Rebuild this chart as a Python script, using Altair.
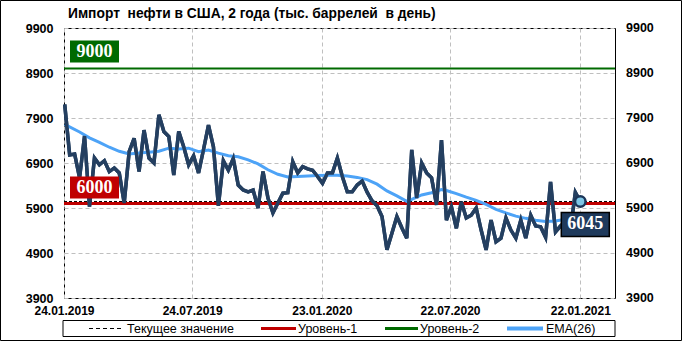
import altair as alt
import pandas as pd

# ---------------- data ----------------
dates = pd.date_range("2019-01-25", periods=105, freq="7D").strftime("%Y-%m-%d").tolist()
imports = [
    8200, 7080, 7100, 6570, 7500, 5930, 7010, 6860, 6950, 6710,
    6790, 6680, 6010, 7150, 7450, 6710, 7630, 7010, 6900, 7970,
    7600, 7490, 6630, 7600, 7260, 6860, 7060, 6680, 7200, 7740,
    7260, 5950, 6950, 6740, 7000, 6410, 6300, 6260, 6300, 5900,
    6710, 6120, 5790, 6010, 6230, 6240, 6930, 6680, 6820, 6770,
    6740, 6600, 6450, 6680, 6680, 7010, 6600, 6260, 6260, 6410,
    6500, 6250, 6060, 5950, 5710, 4970, 5340, 5710, 5460, 5230,
    7190, 6120, 6900, 6680, 6570, 5970, 7410, 5630, 5930, 5450,
    6040, 5680, 5740, 5900, 5410, 4970, 5630, 5150, 5230, 5680,
    5410, 5230, 5630, 5230, 5740, 5500, 5480, 5250, 6480, 5370,
    5500, 5600, 5400, 6250, 6045,
]
ema_weeks = [0, 3, 5, 7, 9, 11, 13, 15, 17, 19, 21, 23, 25, 27, 29, 31, 33, 35, 37, 39,
             41, 43, 45, 47, 49, 51, 53, 55, 57, 59, 61, 63, 65, 67, 69, 70, 72, 74, 76, 77,
             79, 81, 83, 85, 87, 89, 91, 93, 95, 97, 99, 101, 104]
ema_values = [7760, 7590, 7460, 7360, 7250, 7160, 7100, 7120, 7140, 7160, 7230, 7210, 7230, 7150,
              7190, 7120, 7060, 7040, 6970, 6880, 6750, 6650, 6590, 6600, 6610, 6620, 6630, 6630,
              6610, 6580, 6530, 6430, 6280, 6170, 6050, 6090, 6190, 6240, 6310, 6290, 6220, 6140,
              6070, 5980, 5870, 5790, 5720, 5670, 5630, 5600, 5610, 5650, 5720]
level1 = 6000
level2 = 9000
y_ticks = [3900, 4900, 5900, 6900, 7900, 8900, 9900]
x_ticks = ["2019-01-24", "2019-07-24", "2020-01-23", "2020-07-22", "2021-01-22"]
x_domain = ["2019-01-24", "2021-03-12"]
title_text = "Импорт\u00a0 нефти в США, 2 года (тыс. баррелей\u00a0 в день)"
legend_labels = ["Текущее значение", "Уровень-1", "Уровень-2", "EMA(26)"]

# ---------------- helpers ----------------
W, H = 551, 270
FONT = "Liberation Sans"
SERIF = "Liberation Serif"
NAVY = "#243F60"
BLUE = "#4DA3F7"
RED = "#C00000"
GREEN = "#006A00"


def dt(s):
    y, m, d = (int(p) for p in s.split("-"))
    return alt.DateTime(year=y, month=m, date=d, utc=True)


xscale = alt.Scale(type="utc", domain=[dt(x_domain[0]), dt(x_domain[1])])
yscale = alt.Scale(domain=[y_ticks[0], y_ticks[-1]], nice=False, zero=False)

xaxis = alt.Axis(values=[dt(s) for s in x_ticks],
                 labelExpr="utcFormat(datum.value, '%d.%m.%Y')",
                 title=None, labelFlush=False, labelOverlap=False, labelPadding=7,
                 grid=True, gridDash=[4, 3], gridColor="#BFBFBF", ticks=False, domain=False,
                 labelFont=FONT, labelFontSize=12, labelFontWeight="bold", labelColor="black")
yaxis = alt.Axis(values=y_ticks, format="d", title=None, labelPadding=11, grid=True, gridDash=[4, 3],
                 gridColor="#BFBFBF", ticks=False, domain=False, labelFont=FONT,
                 labelFontSize=12.5, labelFontWeight="bold", labelColor="black")

X = alt.X("date:T", scale=xscale, axis=xaxis)
X2 = alt.X2("date")
Y = alt.Y("v:Q", scale=yscale, axis=yaxis)
Y2 = alt.Y2("v")

df = pd.DataFrame({"date": dates, "v": imports})
ema_df = pd.DataFrame({"date": [dates[i] for i in ema_weeks], "v": ema_values})
last_df = df.tail(1)
cur_df = pd.DataFrame({"v": [imports[-1]]})
l1_df = pd.DataFrame({"v": [level1]})
l2_df = pd.DataFrame({"v": [level2]})
ticks_df = pd.DataFrame({"v": y_ticks})

main = alt.Chart(df).mark_line(color=NAVY, strokeWidth=3.5).encode(x=X, y=Y)
ema = alt.Chart(ema_df).mark_line(color=BLUE, strokeWidth=3).encode(x=X, y=Y)

lvl2 = alt.Chart(l2_df).mark_rule(color=GREEN, strokeWidth=2).encode(
    y=Y, x=alt.value(0), x2=alt.value(W))
lvl1 = alt.Chart(l1_df).mark_rule(color=RED, strokeWidth=3).encode(
    y=Y, x=alt.value(0), x2=alt.value(W))
cur = alt.Chart(cur_df).mark_rule(color="black", strokeWidth=1, strokeDash=[3, 2]).encode(
    y=Y, x=alt.value(0), x2=alt.value(W))

right_labels = alt.Chart(ticks_df).mark_text(
    align="left", baseline="middle", font=FONT, fontSize=12.5, fontWeight="bold", color="black"
).encode(y=Y, x=alt.value(W + 11), text=alt.Text("v:Q", format="d"))

box2 = alt.Chart(l2_df).mark_rect(color=GREEN, yOffset=-28, y2Offset=-6).encode(
    y=Y, y2=Y2, x=alt.value(6), x2=alt.value(55))
txt2 = alt.Chart(l2_df).mark_text(color="white", font=SERIF, fontSize=18, fontWeight="bold",
                                  baseline="middle", align="center", yOffset=-17).encode(
    y=Y, x=alt.value(30.5), text=alt.Text("v:Q", format="d"))
box1 = alt.Chart(l1_df).mark_rect(color=RED, yOffset=-27, y2Offset=-5).encode(
    y=Y, y2=Y2, x=alt.value(6), x2=alt.value(55))
txt1 = alt.Chart(l1_df).mark_text(color="white", font=SERIF, fontSize=18, fontWeight="bold",
                                  baseline="middle", align="center", yOffset=-16).encode(
    y=Y, x=alt.value(30.5), text=alt.Text("v:Q", format="d"))

dot = alt.Chart(last_df).mark_circle(size=110, color="#7FC6E6", stroke="#1B3558",
                                     strokeWidth=2.5, opacity=1).encode(x=X, y=Y)
box_last = alt.Chart(last_df).mark_rect(color="#1F3A5C", stroke="black", strokeWidth=1.5,
                                        xOffset=-19, x2Offset=29, yOffset=11, y2Offset=35).encode(
    x=X, x2=X2, y=Y, y2=Y2)
txt_last = alt.Chart(last_df).mark_text(color="white", font=SERIF, fontSize=18, fontWeight="bold",
                                        baseline="middle", align="center", xOffset=5, yOffset=23).encode(
    x=X, y=Y, text=alt.Text("v:Q", format="d"))

# title
title = alt.Chart(pd.DataFrame({"t": [title_text]})).mark_text(
    align="left", baseline="middle", font=FONT, fontSize=13.8, fontWeight="bold", color="black"
).encode(x=alt.value(4), y=alt.value(-14), text="t:N")

# legend
LY = 300.5
leg_box = alt.Chart(pd.DataFrame({"a": [0]})).mark_rect(filled=False, stroke="black", strokeWidth=1).encode(
    x=alt.value(-1), x2=alt.value(W), y=alt.value(292.5), y2=alt.value(308.5))
leg_items = []
specs = [(25, 58, "black", 1, [4, 3], 63), (197, 232, RED, 3, None, 234),
         (321, 354, GREEN, 3, None, 356), (443, 479, BLUE, 4, None, 482)]
for (x1, x2, col, sw, dash, tx), lab in zip(specs, legend_labels):
    kw = dict(color=col, strokeWidth=sw)
    if dash:
        kw["strokeDash"] = dash
    leg_items.append(alt.Chart(pd.DataFrame({"a": [0]})).mark_rule(**kw).encode(
        x=alt.value(x1), x2=alt.value(x2), y=alt.value(LY)))
    leg_items.append(alt.Chart(pd.DataFrame({"t": [lab]})).mark_text(
        align="left", baseline="middle", font=FONT, fontSize=12.5, color="black").encode(
        x=alt.value(tx), y=alt.value(LY), text="t:N"))

frame = alt.Chart(pd.DataFrame({"a": [0]})).mark_rect(filled=False, stroke="black", strokeWidth=1).encode(
    x=alt.value(-63.5), x2=alt.value(617.5), y=alt.value(-27.5), y2=alt.value(312.5))

chart = alt.layer(
    main, lvl2, lvl1, cur, ema, main,
    dot, box2, txt2, box1, txt1, box_last, txt_last, right_labels, title,
    leg_box, *leg_items, frame
).properties(
    width=W, height=H, autosize="none",
    padding={"left": 64, "top": 28, "right": 67, "bottom": 43},
    background="white",
).configure_view(stroke="black", strokeWidth=1)

chart.save("out.html", embed_options={"renderer": "svg", "actions": False})
